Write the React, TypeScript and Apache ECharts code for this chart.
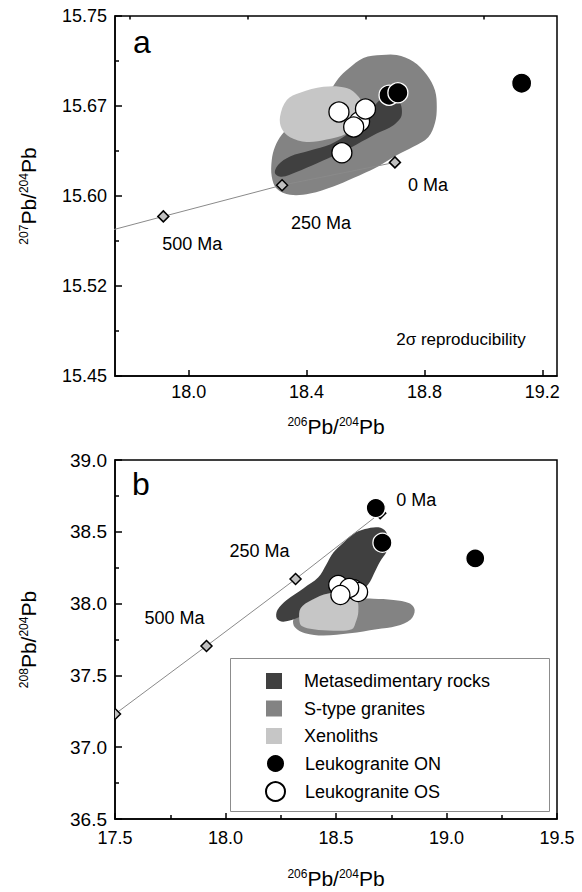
import React, { useEffect, useRef } from 'react';
import * as echarts from 'echarts';

const FONT = '"Liberation Sans", Arial, Helvetica, sans-serif';

// ---- Axis ticks / labels ----
const X_TOP_MAJOR = [18.0, 18.4, 18.8, 19.2];
const X_TOP_MINOR = [17.8, 18.2, 18.6, 19.0];
const Y_TOP_LABELS = ['15.45', '15.52', '15.60', '15.67', '15.75'];

// ---- Samples ----
const OS_206 = [18.58, 18.51, 18.60, 18.56, 18.52];
const OS_207 = [15.662, 15.670, 15.6725, 15.6575, 15.636];
const OS_208 = [38.10, 38.130, 38.081, 38.109, 38.060];

const ON_206 = [18.68, 18.71, 19.13];
const ON_207 = [15.684, 15.686, 15.694];
const ON_208 = [38.666, 38.424, 38.315];

// ---- Stacey-Kramers growth curve ----
const GC_LABELS = ['0 Ma', '250 Ma', '500 Ma', ''];
const GC_206 = [18.700, 18.317, 17.914, 17.500];
const GC_207 = [15.628, 15.609, 15.583, 15.556];
const GC_208 = [38.630, 38.171, 37.705, 37.231];

// ---- Fields (207/204 vs 206/204) ----
const TOP_STYPE = [[18.655,15.7175],[18.706,15.7175],[18.762,15.712],[18.808,15.701],[18.836,15.688],[18.842,15.674],[18.836,15.661],[18.813,15.649],[18.762,15.641],[18.706,15.634],[18.638,15.624],[18.559,15.615],[18.491,15.608],[18.412,15.602],[18.344,15.601],[18.299,15.606],[18.282,15.616],[18.282,15.630],[18.293,15.641],[18.316,15.651],[18.355,15.661],[18.412,15.674],[18.485,15.690],[18.508,15.698],[18.542,15.706],[18.593,15.715]];
const TOP_META = [[18.293,15.619],[18.304,15.626],[18.344,15.633],[18.412,15.638],[18.480,15.643],[18.536,15.651],[18.581,15.661],[18.615,15.670],[18.644,15.679],[18.672,15.683],[18.712,15.680],[18.723,15.6675],[18.695,15.659],[18.638,15.652],[18.570,15.643],[18.514,15.636],[18.434,15.627],[18.366,15.620],[18.316,15.616]];
const TOP_XENO = [[18.310,15.666],[18.333,15.680],[18.378,15.686],[18.457,15.691],[18.536,15.690],[18.576,15.683],[18.593,15.674],[18.576,15.662],[18.536,15.652],[18.468,15.647],[18.400,15.645],[18.344,15.649],[18.316,15.656]];

// ---- Fields (208/204 vs 206/204) ----
const BOT_STYPE = [[18.307,37.890],[18.314,37.835],[18.360,37.793],[18.443,37.777],[18.563,37.793],[18.684,37.821],[18.774,37.844],[18.838,37.890],[18.856,37.955],[18.832,38.002],[18.760,38.025],[18.669,38.034],[18.594,38.030],[18.443,37.979],[18.337,37.932]];
const BOT_META = [[18.631,38.519],[18.692,38.531],[18.726,38.501],[18.737,38.431],[18.729,38.362],[18.699,38.292],[18.676,38.222],[18.654,38.153],[18.624,38.095],[18.594,38.025],[18.443,37.979],[18.337,37.909],[18.262,37.874],[18.232,37.897],[18.235,37.955],[18.277,38.025],[18.352,38.106],[18.420,38.183],[18.455,38.269],[18.488,38.355],[18.533,38.424],[18.578,38.485]];
const BOT_XENO = [[18.334,37.886],[18.340,37.967],[18.390,38.025],[18.465,38.071],[18.548,38.060],[18.594,38.025],[18.601,37.944],[18.590,37.874],[18.571,37.821],[18.488,37.811],[18.398,37.821],[18.345,37.844]];

// label offsets (px) for growth-curve ages
const TOP_LABEL_OFF = [[33, 23], [39, 38], [29, 28], [0, 0]];
const BOT_LABEL_OFF = [[36, -13], [-36, -28], [-32, -28], [0, 0]];

const C_META = '#404040';
const C_STYPE = '#838383';
const C_XENO = '#c6c6c6';

function field(name: string, pts: number[][], color: string, xi: number, yi: number) {
  return {
    type: 'custom',
    name,
    xAxisIndex: xi,
    yAxisIndex: yi,
    silent: true,
    clip: true,
    z: 1,
    itemStyle: { color },
    data: [[pts[0][0], pts[0][1]]],
    renderItem: (_p: any, api: any) => ({
      type: 'polygon',
      shape: { points: pts.map((p) => api.coord(p)), smooth: 0.35 },
      style: { fill: color, stroke: null },
    }),
  };
}

function growth(xs: number[], ys: number[], offs: number[][], xi: number, yi: number) {
  const pts = xs.map((x, i) => [x, ys[i], i]);
  return [
    {
      type: 'line',
      xAxisIndex: xi,
      yAxisIndex: yi,
      data: pts.map((p) => [p[0], p[1]]),
      showSymbol: false,
      silent: true,
      z: 2,
      lineStyle: { color: '#8a8a8a', width: 1 },
    },
    {
      type: 'custom',
      xAxisIndex: xi,
      yAxisIndex: yi,
      silent: true,
      clip: true,
      z: 3,
      data: pts,
      renderItem: (params: any, api: any) => {
        const c = api.coord([api.value(0), api.value(1)]);
        const i = params.dataIndex;
        const r = 5.5;
        const children: any[] = [
          {
            type: 'polygon',
            shape: { points: [[c[0], c[1] - r], [c[0] + r, c[1]], [c[0], c[1] + r], [c[0] - r, c[1]]] },
            style: { fill: '#c0c0c0', stroke: '#000', lineWidth: 1.5 },
          },
        ];
        if (GC_LABELS[i]) {
          children.push({
            type: 'text',
            x: c[0] + offs[i][0],
            y: c[1] + offs[i][1],
            style: { text: GC_LABELS[i], fontSize: 18, fontFamily: FONT, fill: '#000', align: 'center', verticalAlign: 'middle' },
          });
        }
        return { type: 'group', children };
      },
    },
  ];
}

function samples(xs: number[], ys: number[], name: string, xi: number, yi: number, fill: string, border: string, size: number) {
  return {
    type: 'scatter',
    name,
    xAxisIndex: xi,
    yAxisIndex: yi,
    symbol: 'circle',
    symbolSize: size,
    z: 5,
    data: xs.map((x, i) => [x, ys[i]]),
    itemStyle: { color: fill, borderColor: border, borderWidth: 1.3, opacity: 1 },
  };
}

const richName = {
  sup: { fontSize: 12, fontFamily: FONT, color: '#000', verticalAlign: 'top' },
  m: { fontSize: 21, fontFamily: FONT, color: '#000' },
};
const NAME = '{sup|206}{m|Pb/}{sup|204}{m|Pb}';

const axisLine = { show: true, lineStyle: { color: '#000', width: 1.5 } };
const labelStyle = { color: '#000', fontSize: 18, fontFamily: FONT };

const option: any = {
  animation: false,
  backgroundColor: '#fff',
  grid: [
    { left: 115, top: 16, width: 442, height: 360, show: true, borderColor: '#000', borderWidth: 1.5, backgroundColor: 'transparent' },
    { left: 115, top: 460, width: 442, height: 359, show: true, borderColor: '#000', borderWidth: 1.5, backgroundColor: 'transparent' },
  ],
  xAxis: [
    {
      type: 'value', gridIndex: 0, min: 17.75, max: 19.25,
      axisLine,
      splitLine: { show: false },
      axisTick: { show: true, inside: true, length: 6, customValues: X_TOP_MAJOR, lineStyle: { color: '#000', width: 1.5 } },
      axisLabel: { ...labelStyle, margin: 7, customValues: X_TOP_MAJOR, formatter: (v: number) => v.toFixed(1) },
      name: NAME, nameLocation: 'middle', nameGap: 40, nameTextStyle: { rich: richName },
    },
    {
      type: 'value', gridIndex: 0, min: 17.75, max: 19.25,
      axisLine: { show: false },
      splitLine: { show: false },
      axisTick: { show: true, inside: true, length: 3.5, customValues: X_TOP_MINOR, lineStyle: { color: '#000', width: 1.5 } },
      axisLabel: { show: false },
    },
    {
      type: 'value', gridIndex: 1, min: 17.5, max: 19.5, interval: 0.5,
      axisLine,
      splitLine: { show: false },
      axisTick: { show: true, inside: true, length: 6, lineStyle: { color: '#000', width: 1.5 } },
      minorTick: { show: true, splitNumber: 2, length: 4, lineStyle: { color: '#000', width: 1.5 } },
      axisLabel: { ...labelStyle, margin: 10, formatter: (v: number) => v.toFixed(1) },
      name: NAME, nameLocation: 'middle', nameGap: 49, nameTextStyle: { rich: richName },
    },
  ],
  yAxis: [
    {
      type: 'value', gridIndex: 0, min: 15.45, max: 15.75, interval: 0.075,
      axisLine,
      splitLine: { show: false },
      axisTick: { show: true, inside: true, length: 7, lineStyle: { color: '#000', width: 1.5 } },
      minorTick: { show: true, splitNumber: 2, length: 4, lineStyle: { color: '#000', width: 1.5 } },
      axisLabel: { ...labelStyle, margin: 8, formatter: (v: number) => Y_TOP_LABELS[Math.round((v - 15.45) / 0.075)] },
      name: '{sup|207}{m|Pb/}{sup|204}{m|Pb}', nameLocation: 'middle', nameGap: 76, nameTextStyle: { rich: richName },
    },
    {
      type: 'value', gridIndex: 1, min: 36.5, max: 39, interval: 0.5,
      axisLine,
      splitLine: { show: false },
      axisTick: { show: true, inside: true, length: 7, lineStyle: { color: '#000', width: 1.5 } },
      minorTick: { show: true, splitNumber: 2, length: 4, lineStyle: { color: '#000', width: 1.5 } },
      axisLabel: { ...labelStyle, fontSize: 19, margin: 8, formatter: (v: number) => v.toFixed(1) },
      name: '{sup|208}{m|Pb/}{sup|204}{m|Pb}', nameLocation: 'middle', nameGap: 76, nameTextStyle: { rich: richName },
    },
  ],
  legend: [
    {
      orient: 'vertical', left: 266, top: 672, padding: 0, itemGap: 9.5, itemWidth: 16, itemHeight: 16,
      selectedMode: false,
      textStyle: { color: '#000', fontSize: 18, fontFamily: FONT, padding: [0, 0, 0, 17], lineHeight: 16 },
      data: [
        { name: 'Metasedimentary rocks', icon: 'rect' },
        { name: 'S-type granites', icon: 'rect' },
        { name: 'Xenoliths', icon: 'rect' },
      ],
    },
    {
      orient: 'vertical', left: 265, top: 753, padding: 0, itemGap: 7, itemWidth: 19, itemHeight: 19,
      selectedMode: false,
      textStyle: { color: '#000', fontSize: 18, fontFamily: FONT, padding: [0, 0, 0, 15], lineHeight: 19 },
      data: [
        { name: 'Leukogranite ON', icon: 'circle' },
        { name: 'Leukogranite OS', icon: 'circle' },
      ],
    },
  ],
  graphic: [
    { type: 'rect', left: 230, top: 658, z: 0, shape: { width: 319, height: 153 }, style: { fill: '#fff', stroke: '#8c8c8c', lineWidth: 1 } },
    { type: 'text', x: 142, y: 42, style: { text: 'a', fontSize: 32, fontFamily: FONT, fill: '#000', align: 'center', verticalAlign: 'middle' } },
    { type: 'text', x: 141, y: 484, style: { text: 'b', fontSize: 32, fontFamily: FONT, fill: '#000', align: 'center', verticalAlign: 'middle' } },
    { type: 'text', x: 461, y: 339, style: { text: '2σ reproducibility', fontSize: 17, fontFamily: FONT, fill: '#000', align: 'center', verticalAlign: 'middle' } },
  ],
  series: [
    field('S-type granites', TOP_STYPE, C_STYPE, 0, 0),
    field('Metasedimentary rocks', TOP_META, C_META, 0, 0),
    field('Xenoliths', TOP_XENO, C_XENO, 0, 0),
    ...growth(GC_206, GC_207, TOP_LABEL_OFF, 0, 0),
    samples(ON_206, ON_207, 'Leukogranite ON', 0, 0, '#000', '#fff', 20),
    samples(OS_206, OS_207, 'Leukogranite OS', 0, 0, '#fff', '#000', 20),

    field('S-type granites', BOT_STYPE, C_STYPE, 2, 1),
    field('Metasedimentary rocks', BOT_META, C_META, 2, 1),
    field('Xenoliths', BOT_XENO, C_XENO, 2, 1),
    ...growth(GC_206, GC_208, BOT_LABEL_OFF, 2, 1),
    samples(ON_206, ON_208, 'Leukogranite ON', 2, 1, '#000', '#fff', 19),
    samples(OS_206, OS_208, 'Leukogranite OS', 2, 1, '#fff', '#000', 19),
  ],
};

export default function App() {
  const ref = useRef<HTMLDivElement>(null);
  useEffect(() => {
    const chart = echarts.init(ref.current!, null, { renderer: 'svg' });
    chart.setOption(option);
    return () => chart.dispose();
  }, []);
  return (
    <div
      ref={ref}
      style={{ position: 'fixed', left: 0, top: 0, width: 582, height: 892, background: '#fff' }}
    />
  );
}
